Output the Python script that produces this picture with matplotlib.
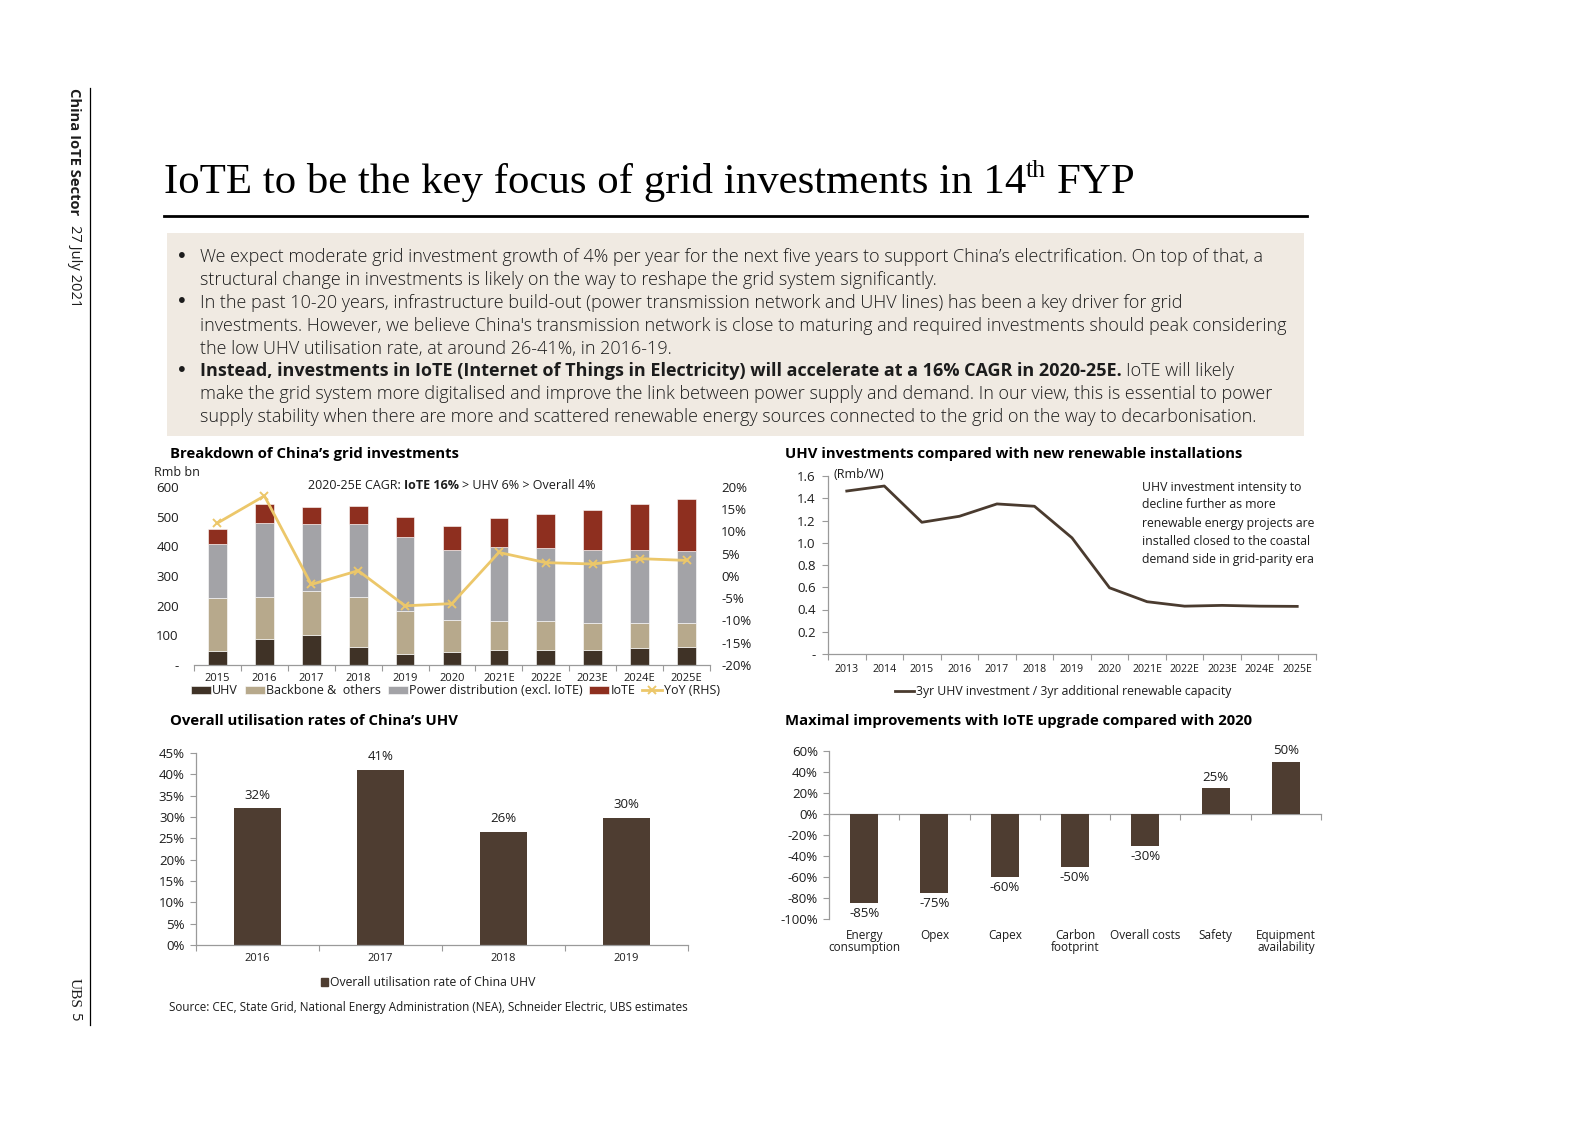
import numpy as np
import matplotlib
matplotlib.use('Agg')
import matplotlib.pyplot as plt
from matplotlib.patches import Rectangle
from matplotlib.lines import Line2D
from matplotlib.ticker import FuncFormatter, NullFormatter

# ---------------- data ----------------
years_inv = ['2015', '2016', '2017', '2018', '2019', '2020', '2021E', '2022E', '2023E', '2024E', '2025E']
uhv = [47, 87, 100, 60, 37, 45, 50, 52, 52, 58, 61]
backbone = [180, 143, 151, 170, 146, 107, 100, 95, 91, 85, 82]
power_dist = [181, 249, 223, 244, 249, 236, 249, 247, 246, 246, 242]
iote = [52, 63, 57, 62, 68, 80, 96, 114, 133, 153, 176]
yoy = [11.9, 18.0, -1.9, 1.2, -6.7, -6.2, 5.3, 3.0, 2.7, 3.9, 3.5]
inv_ticks = [0, 100, 200, 300, 400, 500, 600]
yoy_ticks = [-20, -15, -10, -5, 0, 5, 10, 15, 20]

years_int = ['2013', '2014', '2015', '2016', '2017', '2018', '2019', '2020',
             '2021E', '2022E', '2023E', '2024E', '2025E']
uhv_intensity = [1.465, 1.51, 1.184, 1.238, 1.349, 1.328, 1.044, 0.595, 0.47, 0.43, 0.437, 0.43, 0.428]
int_ticks = [0, 0.2, 0.4, 0.6, 0.8, 1.0, 1.2, 1.4, 1.6]

util_years = ['2016', '2017', '2018', '2019']
util_rate = [32.0, 41.1, 26.4, 29.8]
util_ticks = [0, 5, 10, 15, 20, 25, 30, 35, 40, 45]

imp_cats = ['Energy\nconsumption', 'Opex', 'Capex', 'Carbon\nfootprint', 'Overall costs', 'Safety', 'Equipment\navailability']
imp_vals = [-85, -75, -60, -50, -30, 25, 50]
imp_ticks = [-100, -80, -60, -40, -20, 0, 20, 40, 60]

# ---------------- style ----------------
W, H = 1587, 1121
plt.rcParams['font.family'] = ['Open Sans', 'DejaVu Sans']
TXT = '#1c1c1c'
GRAY = '#9a9a9a'
C_UHV = '#3F3226'
C_BB = '#B7A98C'
C_PD = '#A3A3A7'
C_IO = '#8E2F1F'
C_YOY = '#ECC76A'
C_BAR = '#4E3D31'
C_LINE = '#4A3B2F'
BOX = '#F0EAE2'

fig = plt.figure(figsize=(W / 100, H / 100), dpi=100)
fig.patch.set_facecolor('white')
renderer = fig.canvas.get_renderer()


def fy(y):
    return 1 - y / H


def fx(x):
    return x / W


def add_ax(x0, y0, x1, y1):
    return fig.add_axes([x0 / W, 1 - y1 / H, (x1 - x0) / W, (y1 - y0) / H])


def twidth(s, **kw):
    t = fig.text(0, 0, s, **kw)
    w = t.get_window_extent(renderer).width
    t.remove()
    return w


def fit(s, target, **kw):
    return 10 * target / twidth(s, fontsize=10, **kw)


def runs(x, y, parts, va='baseline'):
    cur = x
    for s, kw in parts:
        kw = dict(kw)
        dy = kw.pop('dy', 0)
        lead = len(s) - len(s.lstrip(' '))
        trail = len(s) - len(s.rstrip(' '))
        core = s.strip(' ')
        sw = twidth('a a', **kw) - twidth('aa', **kw)
        cur += lead * sw
        t = fig.text(fx(cur), fy(y + dy), core, ha='left', va=va, **kw)
        cur += t.get_window_extent(renderer).width
        cur += trail * sw
    return cur


def cat_axis(ax, n, labels, size, pad):
    x = np.arange(n)
    ax.set_xlim(-0.5, n - 0.5)
    ax.set_xticks(x, labels)
    ax.set_xticks(np.arange(-0.5, n, 1), minor=True)
    ax.tick_params(axis='x', which='major', length=0, pad=pad, labelsize=size, labelcolor=TXT)
    ax.tick_params(axis='x', which='minor', length=4, width=0.8, color=GRAY)
    ax.spines['bottom'].set_color(GRAY)
    ax.spines['bottom'].set_linewidth(0.9)
    for s in ['top', 'right']:
        ax.spines[s].set_visible(False)
    ax.set_facecolor('none')


# ---------------- page decorations ----------------
fig.add_artist(Line2D([fx(90), fx(90)], [fy(88), fy(1025)], color='black', lw=0.9, transform=fig.transFigure))
ss = fit('China IoTE Sector', 127, weight='bold')
fig.text(fx(74), fy(88), 'China IoTE Sector', rotation=-90, ha='center', va='top', weight='bold', fontsize=ss, color=TXT)
fig.text(fx(74), fy(225), '27 July 2021', rotation=-90, ha='center', va='top', fontsize=ss, color=TXT)
fig.text(fx(74), fy(978), 'UBS', rotation=-90, ha='center', va='top', fontsize=ss + 0.5, color=TXT,
         family=['Liberation Serif'])
fig.text(fx(74), fy(1013), '5', rotation=-90, ha='center', va='top', fontsize=ss, color=TXT)

# title
tfs = fit('IoTE to be the key focus of grid investments in 14th FYP', 986, family=['Liberation Serif'])
sf = dict(family=['Liberation Serif'], color='black')
runs(164, 193, [('IoTE to be the key focus of grid investments in 14', dict(fontsize=tfs, **sf)),
                ('th', dict(fontsize=tfs * 0.6, dy=-tfs * 1.389 * 0.38, **sf)),
                (' FYP', dict(fontsize=tfs, **sf))])
fig.add_artist(Line2D([fx(164), fx(1307)], [fy(216), fy(216)], color='black', lw=2, transform=fig.transFigure))

# text box
fig.add_artist(Rectangle((fx(167), fy(436)), (1304 - 167) / W, (436 - 233) / H, facecolor=BOX,
                         edgecolor='none', transform=fig.transFigure, zorder=0))
lines = [
    (True, [('We expect moderate grid investment growth of 4% per year for the next five years to support China\u2019s electrification. On top of that, a', 'light')]),
    (False, [('structural change in investments is likely on the way to reshape the grid system significantly.', 'light')]),
    (True, [('In the past 10-20 years, infrastructure build-out (power transmission network and UHV lines) has been a key driver for grid', 'light')]),
    (False, [("investments. However, we believe China's transmission network is close to maturing and required investments should peak considering", 'light')]),
    (False, [('the low UHV utilisation rate, at around 26-41%, in 2016-19.', 'light')]),
    (True, [('Instead, investments in IoTE (Internet of Things in Electricity) will accelerate at a 16% CAGR in 2020-25E.', 'bold'),
            (' IoTE will likely', 'light')]),
    (False, [('make the grid system more digitalised and improve the link between power supply and demand. In our view, this is essential to power', 'light')]),
    (False, [('supply stability when there are more and scattered renewable energy sources connected to the grid on the way to decarbonisation.', 'light')]),
]
bfs = min(fit(lines[0][1][0][0], 1086, weight='light'), fit(lines[3][1][0][0], 1087, weight='light'))
for i, (bullet, parts) in enumerate(lines):
    yc = 256 + i * 22.8
    yb = yc + 0.36 * bfs * 1.389
    if bullet:
        fig.text(fx(182), fy(yc), '\u2022', ha='center', va='center', fontsize=bfs * 1.1, color=TXT,
                 family=['DejaVu Sans'])
    runs(200, yb, [(s, dict(fontsize=bfs, weight=w, color=TXT)) for s, w in parts])

# chart titles
cts = fit('UHV investments compared with new renewable installations', 458, weight='bold')
for x, y, s in [(170, 454, 'Breakdown of China\u2019s grid investments'),
                (785, 454, 'UHV investments compared with new renewable installations'),
                (170, 721, 'Overall utilisation rates of China\u2019s UHV'),
                (785, 721, 'Maximal improvements with IoTE upgrade compared with 2020')]:
    fig.text(fx(x), fy(y), s, ha='left', va='center', weight='bold', fontsize=cts, color='black')

# ---------------- chart 1: stacked bars ----------------
ax1 = add_ax(194, 487, 710, 665)
n1 = len(years_inv)
x1 = np.arange(n1)
bw = 0.4
b1 = ax1.bar(x1, uhv, bw, color=C_UHV, edgecolor='white', linewidth=0.4, label='UHV')
bot = np.array(uhv, dtype=float)
b2 = ax1.bar(x1, backbone, bw, bottom=bot, color=C_BB, edgecolor='white', linewidth=0.4, label='Backbone &  others')
bot = bot + np.array(backbone)
b3 = ax1.bar(x1, power_dist, bw, bottom=bot, color=C_PD, edgecolor='white', linewidth=0.4,
             label='Power distribution (excl. IoTE)')
bot = bot + np.array(power_dist)
b4 = ax1.bar(x1, iote, bw, bottom=bot, color=C_IO, edgecolor='white', linewidth=0.4, label='IoTE')
ax1.set_ylim(inv_ticks[0], inv_ticks[-1])
ax1.set_yticks(inv_ticks)
ax1.yaxis.set_major_formatter(FuncFormatter(lambda v, p: '-' if v == 0 else f'{v:.0f}'))
ax1.tick_params(axis='y', length=0, pad=11, labelsize=9.5, labelcolor=TXT)
cat_axis(ax1, n1, years_inv, 8, 6)
ax1.spines['left'].set_visible(False)
ax1r = ax1.twinx()
l1, = ax1r.plot(x1, yoy, color=C_YOY, lw=2, marker='x', ms=6, mew=1.4, label='YoY (RHS)')
ax1r.set_ylim(yoy_ticks[0], yoy_ticks[-1])
ax1r.set_yticks(yoy_ticks)
ax1r.yaxis.set_major_formatter(FuncFormatter(lambda v, p: f'{v:.0f}%'))
ax1r.tick_params(axis='y', length=0, pad=8, labelsize=9.5, labelcolor=TXT)
for s in ax1r.spines.values():
    s.set_visible(False)
fig.text(fx(154), fy(473), 'Rmb bn', ha='left', va='center', fontsize=9, color=TXT)
cfs = 9
runs(308, 484 + 0.36 * cfs * 1.389, [('2020-25E CAGR: ', dict(fontsize=cfs, color=TXT)),
                                      ('IoTE 16%', dict(fontsize=cfs, weight='bold', color=TXT)),
                                      (' > UHV 6% > Overall 4%', dict(fontsize=cfs, color=TXT))])
fig.legend([b1, b2, b3, b4, l1], ['UHV', 'Backbone &  others', 'Power distribution (excl. IoTE)', 'IoTE', 'YoY (RHS)'],
           loc='center', bbox_to_anchor=(fx(455), fy(691)), ncol=5, frameon=False, fontsize=9,
           handlelength=1.6, handleheight=0.55, handletextpad=0.1, columnspacing=0.55, borderpad=0,
           labelcolor=TXT)

# ---------------- chart 2: line ----------------
ax2 = add_ax(828, 476, 1316, 654)
n2 = len(years_int)
x2 = np.arange(n2)
l2, = ax2.plot(x2, uhv_intensity, color=C_LINE, lw=2)
ax2.set_ylim(int_ticks[0], int_ticks[-1])
ax2.set_yticks(int_ticks)
ax2.yaxis.set_major_formatter(FuncFormatter(lambda v, p: '-' if abs(v) < 1e-9 else f'{v:.1f}'))
ax2.tick_params(axis='y', length=4, width=0.8, color=GRAY, pad=5, labelsize=9.5, labelcolor=TXT)
cat_axis(ax2, n2, years_int, 7.6, 7)
ax2.spines['left'].set_color(GRAY)
ax2.spines['left'].set_linewidth(0.9)
fig.text(fx(834), fy(474), '(Rmb/W)', ha='left', va='center', fontsize=9, color=TXT)
note = ['UHV investment intensity to', 'decline further as more', 'renewable energy projects are',
        'installed closed to the coastal', 'demand side in grid-parity era']
for i, s in enumerate(note):
    fig.text(fx(1142), fy(487 + 18 * i), s, ha='left', va='center', fontsize=8.8, color=TXT)
fig.legend([l2], ['3yr UHV investment / 3yr additional renewable capacity'], loc='center',
           bbox_to_anchor=(fx(1063), fy(692)), frameon=False, fontsize=8.8, handlelength=1.6,
           handletextpad=0.1, borderpad=0, labelcolor=TXT)

# ---------------- chart 3: utilisation ----------------
ax3 = add_ax(196, 753, 688, 945)
n3 = len(util_years)
x3 = np.arange(n3)
b_u = ax3.bar(x3, util_rate, 0.39, color=C_BAR)
ax3.set_ylim(util_ticks[0], util_ticks[-1])
ax3.set_yticks(util_ticks)
ax3.yaxis.set_major_formatter(FuncFormatter(lambda v, p: f'{v:.0f}%'))
ax3.tick_params(axis='y', length=4, width=0.8, color=GRAY, pad=4, labelsize=9.5, labelcolor=TXT)
cat_axis(ax3, n3, util_years, 8, 6)
ax3.spines['left'].set_color(GRAY)
ax3.spines['left'].set_linewidth(0.9)
for xi, v in zip(x3, util_rate):
    ax3.annotate(f'{v:.0f}%', (xi, v), xytext=(0, 5), textcoords='offset points', ha='center', va='bottom',
                 fontsize=9.5, color=TXT)
fig.legend([Rectangle((0, 0), 1, 1, color=C_BAR)], ['Overall utilisation rate of China UHV'], loc='center',
           bbox_to_anchor=(fx(428), fy(983)), frameon=False, fontsize=8.8, handlelength=0.6,
           handleheight=0.6, handletextpad=0.15, borderpad=0, labelcolor=TXT)
src = 'Source: CEC, State Grid, National Energy Administration (NEA), Schneider Electric, UBS estimates'
fig.text(fx(169), fy(1008), src, ha='left', va='center', fontsize=fit(src, 521), color=TXT)

# ---------------- chart 4: improvements ----------------
ax4 = add_ax(829, 751, 1321, 919)
n4 = len(imp_cats)
x4 = np.arange(n4)
ax4.bar(x4, imp_vals, 0.4, color=C_BAR)
ax4.set_ylim(imp_ticks[0], imp_ticks[-1])
ax4.set_yticks(imp_ticks)
ax4.yaxis.set_major_formatter(FuncFormatter(lambda v, p: f'{v:.0f}%'))
ax4.tick_params(axis='y', length=4, width=0.8, color=GRAY, pad=4, labelsize=9.5, labelcolor=TXT)
cat_axis(ax4, n4, imp_cats, 8.5, 7)
ax4.tick_params(axis='x', which='minor', length=0)
ax4.spines['bottom'].set_visible(False)
ax4.spines['left'].set_color(GRAY)
ax4.spines['left'].set_linewidth(0.9)
for lab in ax4.get_xticklabels():
    lab.set_linespacing(0.95)
zero_frac = (0 - imp_ticks[0]) / (imp_ticks[-1] - imp_ticks[0])
sec = ax4.secondary_xaxis(zero_frac)
sec.set_alignment('bottom')
sec.set_xticks(np.arange(-0.5, n4, 1))
sec.xaxis.set_major_formatter(NullFormatter())
sec.tick_params(axis='x', length=4, width=0.8, color=GRAY)
sec.spines['bottom'].set_color(GRAY)
sec.spines['bottom'].set_linewidth(0.9)
for xi, v in zip(x4, imp_vals):
    off = 3 if v >= 0 else -3
    ax4.annotate(f'{v:.0f}%', (xi, v), xytext=(0, off), textcoords='offset points', ha='center',
                 va='bottom' if v >= 0 else 'top', fontsize=9.5, color=TXT)

fig.savefig('out.png', dpi=100, facecolor='white')
